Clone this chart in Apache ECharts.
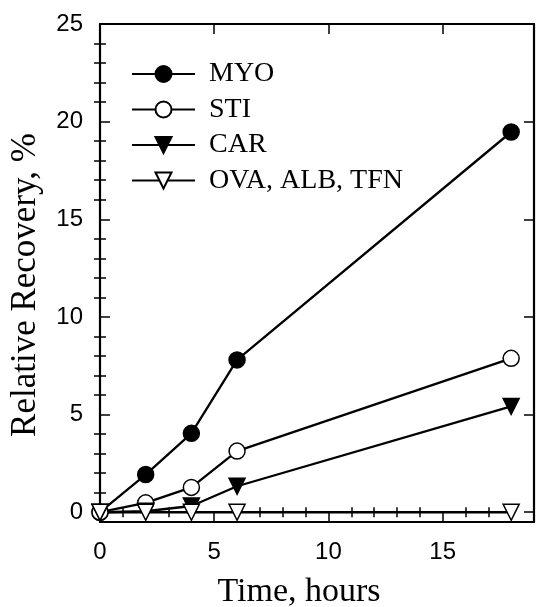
<!DOCTYPE html>
<html>
<head>
<meta charset="utf-8">
<script src="https://cdn.jsdelivr.net/npm/echarts@6/dist/echarts.min.js"></script>
<style>
html,body{margin:0;padding:0;background:#fff;}
#chart{width:536px;height:607px;}
</style>
</head>
<body>
<div id="chart"></div>
<script>
// ---- data ----
const seriesNames = ['MYO', 'STI', 'CAR', 'OVA, ALB, TFN'];
const times = [0, 2, 4, 6, 18];
const myo = [0, 1.93, 4.04, 7.8, 19.47];
const sti = [0, 0.48, 1.27, 3.13, 7.88];
const car = [0, 0.05, 0.32, 1.33, 5.42];
const ova = [0, 0, 0, 0, 0];
const xMajorTicks = [0, 5, 10, 15];
const xMinorTicks = [1, 2, 3, 4, 6, 7, 8, 9, 11, 12, 13, 14, 16, 17, 18];
const yMajorTicks = [0, 5, 10, 15, 20, 25];
const yMinorTicks = [1, 2, 3, 4, 6, 7, 8, 9, 11, 12, 13, 14, 16, 17, 18, 19, 21, 22, 23, 24];
const xTitle = 'Time, hours';
const yTitle = 'Relative Recovery, %';

const pairs = (ys) => times.map((t, i) => [t, ys[i]]);

const SANS = 'Liberation Sans, Arial, sans-serif';
const SERIF = 'Liberation Serif, Times New Roman, serif';
const INK = '#000';

function xAxisDef(position, ticks, len, opts) {
  return Object.assign({
    type: 'value', position: position, min: 0, max: 19, gridIndex: 0,
    axisLine: { show: true, onZero: false, lineStyle: { color: INK, width: 2.2 } },
    axisTick: { show: true, inside: true, length: len, customValues: ticks, lineStyle: { color: INK, width: 1.5 } },
    axisLabel: { show: false },
    splitLine: { show: false }
  }, opts || {});
}
function yAxisDef(position, ticks, len, opts) {
  return Object.assign({
    type: 'value', position: position, min: -0.5, max: 25, gridIndex: 0,
    axisLine: { show: true, onZero: false, lineStyle: { color: INK, width: 2.2 } },
    axisTick: { show: true, inside: true, length: len, customValues: ticks, lineStyle: { color: INK, width: 1.5 } },
    axisLabel: { show: false },
    splitLine: { show: false }
  }, opts || {});
}

const xAxes = [
  xAxisDef('bottom', xMajorTicks, 10, {
    axisLabel: { show: true, customValues: xMajorTicks, margin: 18, color: INK, fontSize: 24, fontFamily: SANS },
    name: xTitle, nameLocation: 'middle', nameGap: 53,
    nameTextStyle: { color: INK, fontSize: 34, fontFamily: SERIF, padding: [0, 36, 0, 0] }
  }),
  xAxisDef('bottom', xMinorTicks, 5, { axisLine: { show: false } }),
  xAxisDef('top', xMajorTicks, 10),
  xAxisDef('top', xMinorTicks, 5, { axisLine: { show: false } })
];
const yAxes = [
  yAxisDef('left', yMajorTicks, 10, {
    axisLabel: { show: true, customValues: yMajorTicks, margin: 17, color: INK, fontSize: 24, fontFamily: SANS },
    name: yTitle, nameLocation: 'middle', nameGap: 57,
    nameTextStyle: { color: INK, fontSize: 35, fontFamily: SERIF, padding: [0, 24, 0, 0] }
  }),
  yAxisDef('left', yMinorTicks, 6, { axisLine: { show: false } }),
  yAxisDef('right', yMajorTicks, 10),
  yAxisDef('right', yMinorTicks, 6, { axisLine: { show: false } })
];

function mkSeries(name, ys, symbol, rotate, fill) {
  return {
    name: name, type: 'line', data: pairs(ys),
    xAxisIndex: 0, yAxisIndex: 0, clip: false,
    symbol: symbol, symbolSize: 16, symbolRotate: rotate,
    lineStyle: { color: INK, width: 2.3 },
    itemStyle: { color: fill, borderColor: INK, borderWidth: 1.5 },
    emphasis: { disabled: true },
    animation: false
  };
}

const option = {
  backgroundColor: '#fff',
  animation: false,
  grid: { left: 100, right: 2, top: 24, bottom: 85, containLabel: false, outerBoundsMode: 'none' },
  legend: {
    orient: 'vertical', left: 131, top: 60, padding: 0,
    itemWidth: 63, itemHeight: 20, itemGap: 7.5,
    data: seriesNames,
    textStyle: { color: INK, fontSize: 28, fontFamily: SERIF, padding: [0, 0, 0, 9] },
    selectedMode: false
  },
  xAxis: xAxes,
  yAxis: yAxes,
  series: [
    mkSeries(seriesNames[0], myo, 'circle', 0, '#000'),
    mkSeries(seriesNames[1], sti, 'circle', 0, '#fff'),
    mkSeries(seriesNames[2], car, 'triangle', 180, '#000'),
    mkSeries(seriesNames[3], ova, 'triangle', 180, '#fff')
  ]
};

const chart = echarts.init(document.getElementById('chart'), null, { renderer: 'canvas' });
chart.setOption(option);
</script>
</body>
</html>
